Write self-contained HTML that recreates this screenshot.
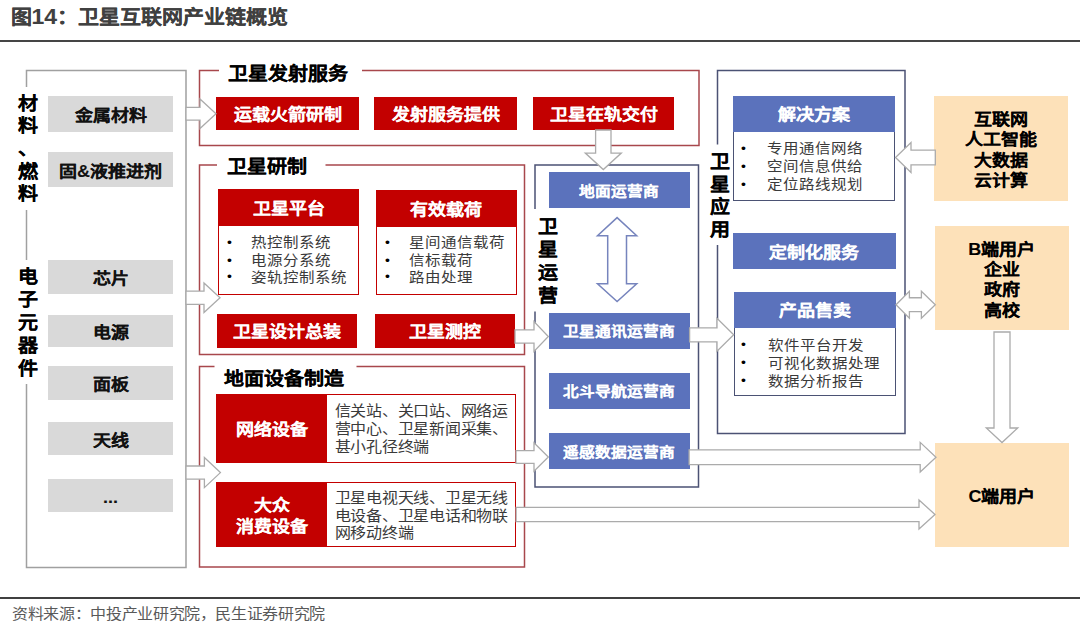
<!DOCTYPE html>
<html lang="zh-CN"><head><meta charset="utf-8"><style>
html,body{margin:0;padding:0;background:#fff;}
body{width:1080px;height:626px;position:relative;overflow:hidden;font-family:"Liberation Sans",sans-serif;}
svg{position:absolute;left:0;top:0;}
</style></head><body>
<svg width="1080" height="626"><polyline points="26.5,87 26.5,70.5 186,70.5 186,567.5 26.5,567.5 26.5,384" fill="none" stroke="#A0A0A0" stroke-width="1.5"/><polyline points="26.5,210 26.5,260" fill="none" stroke="#A0A0A0" stroke-width="1.5"/><polyline points="219,70.5 199.5,70.5 199.5,145.5 699,145.5 699,70.5 362,70.5" fill="none" stroke="#A8474C" stroke-width="1.5"/><polyline points="217,165 199.5,165 199.5,354.5 524.5,354.5 524.5,165 325.5,165" fill="none" stroke="#A8474C" stroke-width="1.5"/><polyline points="214.5,366.5 199.5,366.5 199.5,567 524.5,567 524.5,366.5 356.5,366.5" fill="none" stroke="#A8474C" stroke-width="1.5"/><polyline points="535,209 535,165 698.5,165 698.5,487 535,487 535,311.5" fill="none" stroke="#4B5274" stroke-width="1.5"/><polyline points="717.5,144.5 717.5,70.5 905,70.5 905,433.5 717.5,433.5 717.5,245" fill="none" stroke="#4B5274" stroke-width="1.5"/></svg>
<div style="position:absolute;left:0px;top:39.5px;width:1080px;height:2.5px;background:#454545;"></div>
<div style="position:absolute;left:10.5px;top:6.5px;font-size:21px;line-height:21px;font-weight:bold;color:#404040;white-space:nowrap;-webkit-text-stroke:0.1px #404040;"><div style="transform:scaleY(0.93)">图<span style="font-size:23px">14</span>：卫星互联网产业链概览</div></div>
<div style="position:absolute;left:0px;top:597px;width:1080px;height:2px;background:#404040;"></div>
<div style="position:absolute;left:12px;top:606.5px;font-size:16px;line-height:16px;font-weight:normal;color:#595959;white-space:nowrap;letter-spacing:-0.35px;"><div style="transform:scaleY(0.9)">资料来源：中投产业研究院，民生证券研究院</div></div>
<div style="position:absolute;left:17.5px;top:92.5px;font-size:20px;line-height:22.7px;font-weight:bold;color:#000;white-space:nowrap;-webkit-text-stroke:0.1px #000;"><div style="transform:scaleY(0.9)">材</div><div style="transform:scaleY(0.9)">料</div><div style="transform:scaleY(0.9)">、</div><div style="transform:scaleY(0.9)">燃</div><div style="transform:scaleY(0.9)">料</div></div>
<div style="position:absolute;left:17.5px;top:265.5px;font-size:20px;line-height:23.2px;font-weight:bold;color:#000;white-space:nowrap;-webkit-text-stroke:0.1px #000;"><div style="transform:scaleY(0.9)">电</div><div style="transform:scaleY(0.9)">子</div><div style="transform:scaleY(0.9)">元</div><div style="transform:scaleY(0.9)">器</div><div style="transform:scaleY(0.9)">件</div></div>
<div style="position:absolute;left:48px;top:96px;width:125px;height:36px;background:#D9D9D9;"></div>
<div style="position:absolute;left:48px;top:98px;width:125px;height:36px;-webkit-text-stroke:0.1px #111;display:flex;flex-direction:column;align-items:center;justify-content:center;text-align:center;font-size:18px;line-height:18px;font-weight:bold;color:#111;white-space:nowrap"><div style="transform:scaleY(0.9)">金属材料</div></div>
<div style="position:absolute;left:48px;top:152px;width:125px;height:35px;background:#D9D9D9;"></div>
<div style="position:absolute;left:48px;top:154px;width:125px;height:35px;-webkit-text-stroke:0.1px #111;display:flex;flex-direction:column;align-items:center;justify-content:center;text-align:center;font-size:18px;line-height:18px;font-weight:bold;color:#111;white-space:nowrap"><div style="transform:scaleY(0.9)">固&amp;液推进剂</div></div>
<div style="position:absolute;left:48px;top:260px;width:125px;height:34px;background:#D9D9D9;"></div>
<div style="position:absolute;left:48px;top:262px;width:125px;height:34px;-webkit-text-stroke:0.1px #111;display:flex;flex-direction:column;align-items:center;justify-content:center;text-align:center;font-size:18px;line-height:18px;font-weight:bold;color:#111;white-space:nowrap"><div style="transform:scaleY(0.9)">芯片</div></div>
<div style="position:absolute;left:48px;top:315px;width:125px;height:32px;background:#D9D9D9;"></div>
<div style="position:absolute;left:48px;top:317px;width:125px;height:32px;-webkit-text-stroke:0.1px #111;display:flex;flex-direction:column;align-items:center;justify-content:center;text-align:center;font-size:18px;line-height:18px;font-weight:bold;color:#111;white-space:nowrap"><div style="transform:scaleY(0.9)">电源</div></div>
<div style="position:absolute;left:48px;top:366px;width:125px;height:34px;background:#D9D9D9;"></div>
<div style="position:absolute;left:48px;top:368px;width:125px;height:34px;-webkit-text-stroke:0.1px #111;display:flex;flex-direction:column;align-items:center;justify-content:center;text-align:center;font-size:18px;line-height:18px;font-weight:bold;color:#111;white-space:nowrap"><div style="transform:scaleY(0.9)">面板</div></div>
<div style="position:absolute;left:48px;top:422px;width:125px;height:33px;background:#D9D9D9;"></div>
<div style="position:absolute;left:48px;top:424px;width:125px;height:33px;-webkit-text-stroke:0.1px #111;display:flex;flex-direction:column;align-items:center;justify-content:center;text-align:center;font-size:18px;line-height:18px;font-weight:bold;color:#111;white-space:nowrap"><div style="transform:scaleY(0.9)">天线</div></div>
<div style="position:absolute;left:48px;top:479px;width:125px;height:33px;background:#D9D9D9;"></div>
<div style="position:absolute;left:48px;top:481px;width:125px;height:33px;-webkit-text-stroke:0.1px #111;display:flex;flex-direction:column;align-items:center;justify-content:center;text-align:center;font-size:18px;line-height:18px;font-weight:bold;color:#111;white-space:nowrap"><div style="transform:scaleY(0.9)">...</div></div>
<div style="position:absolute;left:228px;top:63.5px;font-size:20px;line-height:20px;font-weight:bold;color:#000;white-space:nowrap;-webkit-text-stroke:0.1px #000;"><div style="transform:scaleY(0.9)">卫星发射服务</div></div>
<div style="position:absolute;left:227px;top:157px;font-size:20px;line-height:20px;font-weight:bold;color:#000;white-space:nowrap;-webkit-text-stroke:0.1px #000;"><div style="transform:scaleY(0.9)">卫星研制</div></div>
<div style="position:absolute;left:224px;top:368.5px;font-size:20px;line-height:20px;font-weight:bold;color:#000;white-space:nowrap;-webkit-text-stroke:0.1px #000;"><div style="transform:scaleY(0.9)">地面设备制造</div></div>
<div style="position:absolute;left:216px;top:97px;width:143px;height:33px;background:#C30000;"></div>
<div style="position:absolute;left:216px;top:98.5px;width:143px;height:33px;-webkit-text-stroke:0.1px #fff;display:flex;flex-direction:column;align-items:center;justify-content:center;text-align:center;font-size:18px;line-height:18px;font-weight:bold;color:#fff;white-space:nowrap"><div style="transform:scaleY(0.9)">运载火箭研制</div></div>
<div style="position:absolute;left:374px;top:97px;width:143px;height:33px;background:#C30000;"></div>
<div style="position:absolute;left:374px;top:98.5px;width:143px;height:33px;-webkit-text-stroke:0.1px #fff;display:flex;flex-direction:column;align-items:center;justify-content:center;text-align:center;font-size:18px;line-height:18px;font-weight:bold;color:#fff;white-space:nowrap"><div style="transform:scaleY(0.9)">发射服务提供</div></div>
<div style="position:absolute;left:533px;top:97px;width:141px;height:33px;background:#C30000;"></div>
<div style="position:absolute;left:533px;top:98.5px;width:141px;height:33px;-webkit-text-stroke:0.1px #fff;display:flex;flex-direction:column;align-items:center;justify-content:center;text-align:center;font-size:18px;line-height:18px;font-weight:bold;color:#fff;white-space:nowrap"><div style="transform:scaleY(0.9)">卫星在轨交付</div></div>
<div style="position:absolute;left:218px;top:189px;width:141px;height:106px;background:#fff;box-sizing:border-box;border:1.5px solid #C30000;"></div>
<div style="position:absolute;left:218px;top:189px;width:141px;height:37px;background:#C30000;"></div>
<div style="position:absolute;left:218px;top:190.5px;width:141px;height:37px;-webkit-text-stroke:0.1px #fff;display:flex;flex-direction:column;align-items:center;justify-content:center;text-align:center;font-size:18px;line-height:18px;font-weight:bold;color:#fff;white-space:nowrap"><div style="transform:scaleY(0.9)">卫星平台</div></div>
<div style="position:absolute;left:227px;top:234.3px;font-size:14px;line-height:16px;font-weight:normal;color:#000;white-space:nowrap;"><div style="transform:scaleY(0.9)">•</div></div>
<div style="position:absolute;left:251px;top:234.3px;font-size:15.5px;line-height:18px;font-weight:normal;color:#3a3a3a;white-space:nowrap;"><div style="transform:scaleY(0.9)">热控制系统</div></div>
<div style="position:absolute;left:227px;top:251.8px;font-size:14px;line-height:16px;font-weight:normal;color:#000;white-space:nowrap;"><div style="transform:scaleY(0.9)">•</div></div>
<div style="position:absolute;left:251px;top:251.8px;font-size:15.5px;line-height:18px;font-weight:normal;color:#3a3a3a;white-space:nowrap;"><div style="transform:scaleY(0.9)">电源分系统</div></div>
<div style="position:absolute;left:227px;top:269.3px;font-size:14px;line-height:16px;font-weight:normal;color:#000;white-space:nowrap;"><div style="transform:scaleY(0.9)">•</div></div>
<div style="position:absolute;left:251px;top:269.3px;font-size:15.5px;line-height:18px;font-weight:normal;color:#3a3a3a;white-space:nowrap;"><div style="transform:scaleY(0.9)">姿轨控制系统</div></div>
<div style="position:absolute;left:376px;top:190px;width:140.5px;height:105px;background:#fff;box-sizing:border-box;border:1.5px solid #C30000;"></div>
<div style="position:absolute;left:376px;top:190px;width:140.5px;height:37px;background:#C30000;"></div>
<div style="position:absolute;left:376px;top:191.5px;width:140.5px;height:37px;-webkit-text-stroke:0.1px #fff;display:flex;flex-direction:column;align-items:center;justify-content:center;text-align:center;font-size:18px;line-height:18px;font-weight:bold;color:#fff;white-space:nowrap"><div style="transform:scaleY(0.9)">有效载荷</div></div>
<div style="position:absolute;left:385px;top:234.3px;font-size:14px;line-height:16px;font-weight:normal;color:#000;white-space:nowrap;"><div style="transform:scaleY(0.9)">•</div></div>
<div style="position:absolute;left:409px;top:234.3px;font-size:15.5px;line-height:18px;font-weight:normal;color:#3a3a3a;white-space:nowrap;"><div style="transform:scaleY(0.9)">星间通信载荷</div></div>
<div style="position:absolute;left:385px;top:251.8px;font-size:14px;line-height:16px;font-weight:normal;color:#000;white-space:nowrap;"><div style="transform:scaleY(0.9)">•</div></div>
<div style="position:absolute;left:409px;top:251.8px;font-size:15.5px;line-height:18px;font-weight:normal;color:#3a3a3a;white-space:nowrap;"><div style="transform:scaleY(0.9)">信标载荷</div></div>
<div style="position:absolute;left:385px;top:269.3px;font-size:14px;line-height:16px;font-weight:normal;color:#000;white-space:nowrap;"><div style="transform:scaleY(0.9)">•</div></div>
<div style="position:absolute;left:409px;top:269.3px;font-size:15.5px;line-height:18px;font-weight:normal;color:#3a3a3a;white-space:nowrap;"><div style="transform:scaleY(0.9)">路由处理</div></div>
<div style="position:absolute;left:216.5px;top:314px;width:140.5px;height:33.5px;background:#C30000;"></div>
<div style="position:absolute;left:216.5px;top:315.5px;width:140.5px;height:33.5px;-webkit-text-stroke:0.1px #fff;display:flex;flex-direction:column;align-items:center;justify-content:center;text-align:center;font-size:18px;line-height:18px;font-weight:bold;color:#fff;white-space:nowrap"><div style="transform:scaleY(0.9)">卫星设计总装</div></div>
<div style="position:absolute;left:374.7px;top:314px;width:140.3px;height:33.5px;background:#C30000;"></div>
<div style="position:absolute;left:374.7px;top:315.5px;width:140.3px;height:33.5px;-webkit-text-stroke:0.1px #fff;display:flex;flex-direction:column;align-items:center;justify-content:center;text-align:center;font-size:18px;line-height:18px;font-weight:bold;color:#fff;white-space:nowrap"><div style="transform:scaleY(0.9)">卫星测控</div></div>
<div style="position:absolute;left:216px;top:394px;width:300px;height:68.5px;background:#fff;box-sizing:border-box;border:1.5px solid #C30000;"></div>
<div style="position:absolute;left:216px;top:394px;width:111px;height:68.5px;background:#C30000;"></div>
<div style="position:absolute;left:216px;top:396px;width:111px;height:68.5px;-webkit-text-stroke:0.1px #fff;display:flex;flex-direction:column;align-items:center;justify-content:center;text-align:center;font-size:18px;line-height:20.3px;font-weight:bold;color:#fff;white-space:nowrap"><div style="transform:scaleY(0.9)">网络设备</div></div>
<div style="position:absolute;left:334.5px;top:403.25px;font-size:16px;line-height:17.9px;font-weight:normal;color:#3a3a3a;white-space:nowrap;letter-spacing:-0.25px;"><div style="transform:scaleY(0.9)">信关站、关口站、网络运</div><div style="transform:scaleY(0.9)">营中心、卫星新闻采集、</div><div style="transform:scaleY(0.9)">甚小孔径终端</div></div>
<div style="position:absolute;left:216px;top:482px;width:300px;height:65.20000000000005px;background:#fff;box-sizing:border-box;border:1.5px solid #C30000;"></div>
<div style="position:absolute;left:216px;top:482px;width:111px;height:65.20000000000005px;background:#C30000;"></div>
<div style="position:absolute;left:216px;top:484px;width:111px;height:65.20000000000005px;-webkit-text-stroke:0.1px #fff;display:flex;flex-direction:column;align-items:center;justify-content:center;text-align:center;font-size:18px;line-height:20.3px;font-weight:bold;color:#fff;white-space:nowrap"><div style="transform:scaleY(0.9)">大众</div><div style="transform:scaleY(0.9)">消费设备</div></div>
<div style="position:absolute;left:334.5px;top:489.6px;font-size:16px;line-height:17.9px;font-weight:normal;color:#3a3a3a;white-space:nowrap;letter-spacing:-0.25px;"><div style="transform:scaleY(0.9)">卫星电视天线、卫星无线</div><div style="transform:scaleY(0.9)">电设备、卫星电话和物联</div><div style="transform:scaleY(0.9)">网移动终端</div></div>
<div style="position:absolute;left:537.5px;top:215.5px;font-size:20px;line-height:23px;font-weight:bold;color:#000;white-space:nowrap;-webkit-text-stroke:0.1px #000;"><div style="transform:scaleY(0.9)">卫</div><div style="transform:scaleY(0.9)">星</div><div style="transform:scaleY(0.9)">运</div><div style="transform:scaleY(0.9)">营</div></div>
<div style="position:absolute;left:548.6px;top:172px;width:141.0px;height:36px;background:#5B72BC;"></div>
<div style="position:absolute;left:548.6px;top:173.5px;width:141.0px;height:36px;-webkit-text-stroke:0.1px #fff;display:flex;flex-direction:column;align-items:center;justify-content:center;text-align:center;font-size:15.7px;line-height:15.7px;font-weight:bold;color:#fff;white-space:nowrap"><div style="transform:scaleY(0.9)">地面运营商</div></div>
<div style="position:absolute;left:548.6px;top:312.7px;width:141.0px;height:36.0px;background:#5B72BC;"></div>
<div style="position:absolute;left:548.6px;top:314.2px;width:141.0px;height:36.0px;-webkit-text-stroke:0.1px #fff;display:flex;flex-direction:column;align-items:center;justify-content:center;text-align:center;font-size:15.7px;line-height:15.7px;font-weight:bold;color:#fff;white-space:nowrap"><div style="transform:scaleY(0.9)">卫星通讯运营商</div></div>
<div style="position:absolute;left:548.6px;top:373px;width:141.0px;height:35.69999999999999px;background:#5B72BC;"></div>
<div style="position:absolute;left:548.6px;top:374.5px;width:141.0px;height:35.69999999999999px;-webkit-text-stroke:0.1px #fff;display:flex;flex-direction:column;align-items:center;justify-content:center;text-align:center;font-size:15.7px;line-height:15.7px;font-weight:bold;color:#fff;white-space:nowrap"><div style="transform:scaleY(0.9)">北斗导航运营商</div></div>
<div style="position:absolute;left:548.6px;top:433.3px;width:141.0px;height:36.19999999999999px;background:#5B72BC;"></div>
<div style="position:absolute;left:548.6px;top:434.8px;width:141.0px;height:36.19999999999999px;-webkit-text-stroke:0.1px #fff;display:flex;flex-direction:column;align-items:center;justify-content:center;text-align:center;font-size:15.7px;line-height:15.7px;font-weight:bold;color:#fff;white-space:nowrap"><div style="transform:scaleY(0.9)">遥感数据运营商</div></div>
<div style="position:absolute;left:709.5px;top:151px;font-size:20px;line-height:22.7px;font-weight:bold;color:#000;white-space:nowrap;-webkit-text-stroke:0.1px #000;"><div style="transform:scaleY(0.9)">卫</div><div style="transform:scaleY(0.9)">星</div><div style="transform:scaleY(0.9)">应</div><div style="transform:scaleY(0.9)">用</div></div>
<div style="position:absolute;left:733.3px;top:96px;width:162.20000000000005px;height:105px;background:#fff;box-sizing:border-box;border:1.5px solid #4B5274;"></div>
<div style="position:absolute;left:733.3px;top:96px;width:162.20000000000005px;height:35.599999999999994px;background:#5B72BC;"></div>
<div style="position:absolute;left:733.3px;top:97.5px;width:162.20000000000005px;height:35.599999999999994px;-webkit-text-stroke:0.1px #fff;display:flex;flex-direction:column;align-items:center;justify-content:center;text-align:center;font-size:18px;line-height:18px;font-weight:bold;color:#fff;white-space:nowrap"><div style="transform:scaleY(0.9)">解决方案</div></div>
<div style="position:absolute;left:741px;top:140.2px;font-size:14px;line-height:16px;font-weight:normal;color:#000;white-space:nowrap;"><div style="transform:scaleY(0.9)">•</div></div>
<div style="position:absolute;left:767px;top:140.2px;font-size:15.5px;line-height:18px;font-weight:normal;color:#3a3a3a;white-space:nowrap;"><div style="transform:scaleY(0.9)">专用通信网络</div></div>
<div style="position:absolute;left:741px;top:158.0px;font-size:14px;line-height:16px;font-weight:normal;color:#000;white-space:nowrap;"><div style="transform:scaleY(0.9)">•</div></div>
<div style="position:absolute;left:767px;top:158.0px;font-size:15.5px;line-height:18px;font-weight:normal;color:#3a3a3a;white-space:nowrap;"><div style="transform:scaleY(0.9)">空间信息供给</div></div>
<div style="position:absolute;left:741px;top:175.79999999999998px;font-size:14px;line-height:16px;font-weight:normal;color:#000;white-space:nowrap;"><div style="transform:scaleY(0.9)">•</div></div>
<div style="position:absolute;left:767px;top:175.79999999999998px;font-size:15.5px;line-height:18px;font-weight:normal;color:#3a3a3a;white-space:nowrap;"><div style="transform:scaleY(0.9)">定位路线规划</div></div>
<div style="position:absolute;left:732.7px;top:233px;width:163.0px;height:36px;background:#5B72BC;"></div>
<div style="position:absolute;left:732.7px;top:234.5px;width:163.0px;height:36px;-webkit-text-stroke:0.1px #fff;display:flex;flex-direction:column;align-items:center;justify-content:center;text-align:center;font-size:18px;line-height:18px;font-weight:bold;color:#fff;white-space:nowrap"><div style="transform:scaleY(0.9)">定制化服务</div></div>
<div style="position:absolute;left:733.5px;top:291.5px;width:162.0px;height:104.89999999999998px;background:#fff;box-sizing:border-box;border:1.5px solid #4B5274;"></div>
<div style="position:absolute;left:733.5px;top:291.5px;width:162.0px;height:36.0px;background:#5B72BC;"></div>
<div style="position:absolute;left:733.5px;top:293.0px;width:162.0px;height:36.0px;-webkit-text-stroke:0.1px #fff;display:flex;flex-direction:column;align-items:center;justify-content:center;text-align:center;font-size:18px;line-height:18px;font-weight:bold;color:#fff;white-space:nowrap"><div style="transform:scaleY(0.9)">产品售卖</div></div>
<div style="position:absolute;left:741px;top:336.7px;font-size:14px;line-height:16px;font-weight:normal;color:#000;white-space:nowrap;"><div style="transform:scaleY(0.9)">•</div></div>
<div style="position:absolute;left:767.5px;top:336.7px;font-size:15.5px;line-height:18px;font-weight:normal;color:#3a3a3a;white-space:nowrap;"><div style="transform:scaleY(0.9)">软件平台开发</div></div>
<div style="position:absolute;left:741px;top:354.8px;font-size:14px;line-height:16px;font-weight:normal;color:#000;white-space:nowrap;"><div style="transform:scaleY(0.9)">•</div></div>
<div style="position:absolute;left:767.5px;top:354.8px;font-size:15.5px;line-height:18px;font-weight:normal;color:#3a3a3a;white-space:nowrap;"><div style="transform:scaleY(0.9)">可视化数据处理</div></div>
<div style="position:absolute;left:741px;top:372.9px;font-size:14px;line-height:16px;font-weight:normal;color:#000;white-space:nowrap;"><div style="transform:scaleY(0.9)">•</div></div>
<div style="position:absolute;left:767.5px;top:372.9px;font-size:15.5px;line-height:18px;font-weight:normal;color:#3a3a3a;white-space:nowrap;"><div style="transform:scaleY(0.9)">数据分析报告</div></div>
<div style="position:absolute;left:934.4px;top:96px;width:133.60000000000002px;height:104.5px;background:#FDE1B9;"></div>
<div style="position:absolute;left:934.4px;top:98.5px;width:133.60000000000002px;height:104.5px;-webkit-text-stroke:0.1px #000;display:flex;flex-direction:column;align-items:center;justify-content:center;text-align:center;font-size:18px;line-height:20.5px;font-weight:bold;color:#000;white-space:nowrap"><div style="transform:scaleY(0.9)">互联网</div><div style="transform:scaleY(0.9)">人工智能</div><div style="transform:scaleY(0.9)">大数据</div><div style="transform:scaleY(0.9)">云计算</div></div>
<div style="position:absolute;left:935px;top:226.3px;width:133.70000000000005px;height:103.30000000000001px;background:#FDE1B9;"></div>
<div style="position:absolute;left:935px;top:228.8px;width:133.70000000000005px;height:103.30000000000001px;-webkit-text-stroke:0.1px #000;display:flex;flex-direction:column;align-items:center;justify-content:center;text-align:center;font-size:18px;line-height:20.3px;font-weight:bold;color:#000;white-space:nowrap"><div style="transform:scaleY(0.9)">B端用户</div><div style="transform:scaleY(0.9)">企业</div><div style="transform:scaleY(0.9)">政府</div><div style="transform:scaleY(0.9)">高校</div></div>
<div style="position:absolute;left:935px;top:443.3px;width:133.9000000000001px;height:103.49999999999994px;background:#FDE1B9;"></div>
<div style="position:absolute;left:935px;top:444.8px;width:133.9000000000001px;height:103.49999999999994px;-webkit-text-stroke:0.1px #000;display:flex;flex-direction:column;align-items:center;justify-content:center;text-align:center;font-size:18px;line-height:18px;font-weight:bold;color:#000;white-space:nowrap"><div style="transform:scaleY(0.9)">C端用户</div></div>
<svg width="1080" height="626"><polygon points="186,107.3 200,107.3 200,99.0 216,113.7 200,128.4 200,120.10000000000001 186,120.10000000000001" fill="#fff" stroke="#ABABAB" stroke-width="1.3"/><polygon points="186,291.09999999999997 204,291.09999999999997 204,282.9 220,297.7 204,312.5 204,304.3 186,304.3" fill="#fff" stroke="#ABABAB" stroke-width="1.3"/><polygon points="186,466.0 204.4,466.0 204.4,457.6 220.4,472.6 204.4,487.6 204.4,479.20000000000005 186,479.20000000000005" fill="#fff" stroke="#ABABAB" stroke-width="1.3"/><polygon points="595.5999999999999,130 595.5999999999999,153.1 585.3,153.1 603.3,169.6 621.3,153.1 611.0,153.1 611.0,130" fill="#fff" stroke="#ABABAB" stroke-width="1.3"/><polygon points="617.1,217.6 636.7,235.7 626.5,235.7 626.5,283.7 636.7,283.7 617.1,301.6 597.5,283.7 607.7,283.7 607.7,235.7 597.5,235.7" fill="#fff" stroke="#7684BD" stroke-width="1.5"/><polygon points="515,329.9 534,329.9 534,321.65 548.3,336.5 534,351.35 534,343.1 515,343.1" fill="#fff" stroke="#ABABAB" stroke-width="1.3"/><polygon points="689.6,327.8 717,327.8 717,318.3 733.7,334.8 717,351.3 717,341.8 689.6,341.8" fill="#fff" stroke="#ABABAB" stroke-width="1.3"/><polygon points="516,450.6 534,450.6 534,442.8 548.3,457 534,471.2 534,463.4 516,463.4" fill="#fff" stroke="#ABABAB" stroke-width="1.3"/><polygon points="689.1,449.8 920.2,449.8 920.2,442.4 936,457.2 920.2,472.0 920.2,464.59999999999997 689.1,464.59999999999997" fill="#fff" stroke="#ABABAB" stroke-width="1.3"/><polygon points="516.1,507.3 919,507.3 919,500.0 935,514.5 919,529.0 919,521.7 516.1,521.7" fill="#fff" stroke="#ABABAB" stroke-width="1.3"/><polygon points="935.3,150.05 911,150.05 911,142.6 895.5,157.5 911,172.4 911,164.95 935.3,164.95" fill="#fff" stroke="#ABABAB" stroke-width="1.3"/><polygon points="896,304.7 909.4,291.3 909.4,297.75 921.4,297.75 921.4,291.3 935.3,304.7 921.4,318.09999999999997 921.4,311.65 909.4,311.65 909.4,318.09999999999997" fill="#fff" stroke="#ABABAB" stroke-width="1.3"/><polygon points="994,332 994,428 986.3,428 1002,442.5 1017.7,428 1010,428 1010,332" fill="#fff" stroke="#ABABAB" stroke-width="1.3"/></svg>
</body></html>
